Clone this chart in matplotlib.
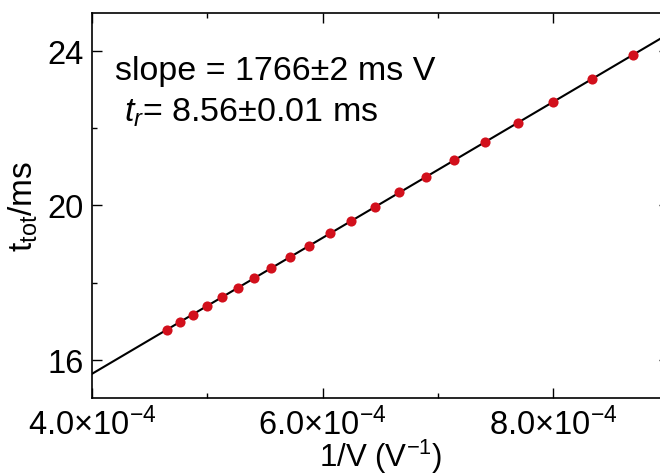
import numpy as np
import matplotlib
matplotlib.use("Agg")
import matplotlib.pyplot as plt
from matplotlib.ticker import FixedLocator, FixedFormatter

plt.rcParams['font.family'] = ['Liberation Sans', 'DejaVu Sans']
plt.rcParams['mathtext.fontset'] = 'custom'
plt.rcParams['mathtext.rm'] = 'Liberation Sans'
plt.rcParams['mathtext.it'] = 'Liberation Sans:italic'
plt.rcParams['mathtext.bf'] = 'Liberation Sans:bold'

# voltages (V) and total times (ms)
voltage = [2150, 2100, 2050, 2000, 1950, 1900, 1850, 1800, 1750, 1700, 1650,
           1600, 1550, 1500, 1450, 1400, 1350, 1300, 1250, 1200, 1150]
t_tot = [16.77, 16.97, 17.17, 17.39, 17.62, 17.86, 18.11, 18.38, 18.66, 18.96, 19.29,
         19.60, 19.97, 20.35, 20.75, 21.18, 21.64, 22.13, 22.69, 23.28, 23.90]

x_ticks = [4.0e-4, 6.0e-4, 8.0e-4]
x_tick_labels = [r'4.0×10$^{-4}$', r'6.0×10$^{-4}$', r'8.0×10$^{-4}$']
x_minor = [5.0e-4, 7.0e-4, 9.0e-4]
y_ticks = [16, 20, 24]
y_minor = [18, 22]

inv_v = 1.0 / np.array(voltage)
t_tot = np.array(t_tot)

# linear fit through the points
slope, intercept = np.polyfit(inv_v, t_tot, 1)
x_fit = np.array([4.0e-4, 9.0e-4])

fig = plt.figure(figsize=(6.6, 4.77), dpi=100)
ax = fig.add_axes([91.9 / 660, 77.75 / 477, (668.6 - 91.9) / 660, (399.25 - 13.75) / 477])

ax.plot(x_fit, intercept + slope * x_fit, color='black', lw=1.5, zorder=2)
ax.plot(inv_v, t_tot, 'o', color='#d2101c', ms=7.3, mec='none', zorder=3)

ax.set_xlim(4.0e-4, 9.0e-4)
ax.set_ylim(15, 25)

ax.xaxis.set_major_locator(FixedLocator(x_ticks))
ax.xaxis.set_major_formatter(FixedFormatter(x_tick_labels))
ax.xaxis.set_minor_locator(FixedLocator(x_minor))
ax.yaxis.set_major_locator(FixedLocator(y_ticks))
ax.yaxis.set_minor_locator(FixedLocator(y_minor))

ax.tick_params(which='both', direction='in', top=True, right=True, width=1.0)
ax.tick_params(which='major', length=7, labelsize=23.5, pad=6)
ax.tick_params(which='minor', length=3.5)
for s in ax.spines.values():
    s.set_linewidth(1.2)

ax.set_xlabel(r'1/V (V$^{\mathregular{-1}}$)', fontsize=22.5)
ax.xaxis.label.set_va('baseline')
ax.xaxis.set_label_coords(0.5, -0.176)
ax.set_ylabel(r'$\mathregular{t_{tot}}$/ms', fontsize=24, labelpad=5)

ax.text(0.040, 0.828, 'slope = 1766±2 ms V', fontsize=24.5, transform=ax.transAxes,
        ha='left', va='baseline')
ax.text(0.055, 0.72, r'$t_r$= 8.56±0.01 ms', fontsize=24.5, transform=ax.transAxes,
        ha='left', va='baseline')

fig.savefig('out.png', dpi=100)
